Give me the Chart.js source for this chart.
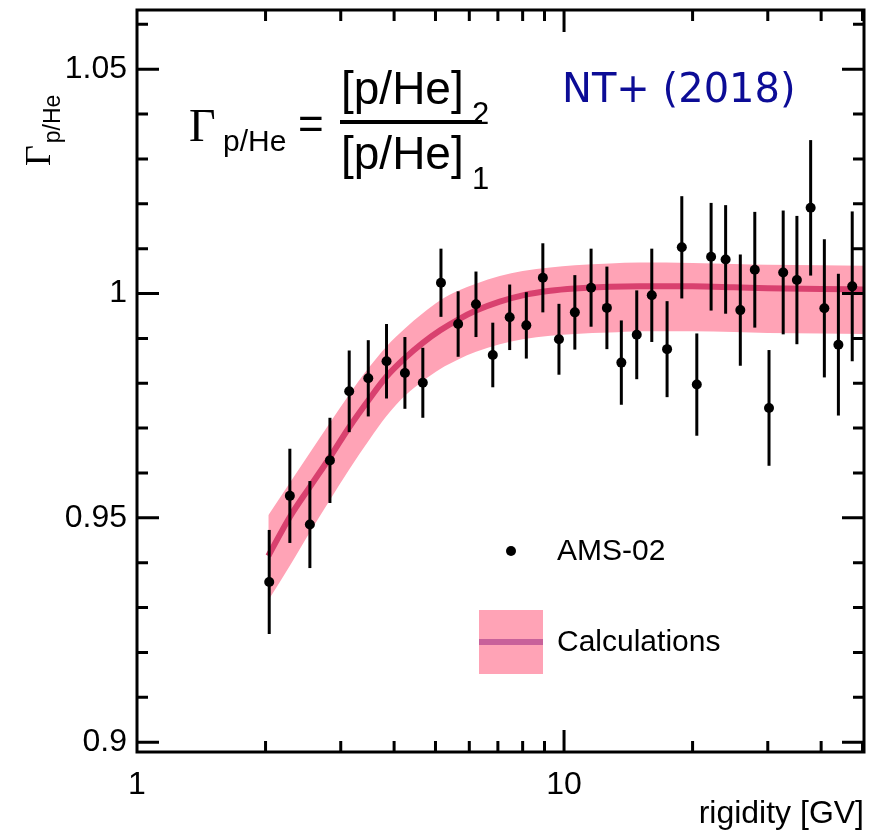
<!DOCTYPE html>
<html>
<head>
<meta charset="utf-8">
<script src="https://cdn.jsdelivr.net/npm/chart.js@4.4.0/dist/chart.umd.min.js"></script>
<style>
  html, body { margin: 0; padding: 0; background: #fff; }
  canvas { display: block; }
</style>
</head>
<body>
<canvas id="ratioChart" width="879" height="836"></canvas>
<script>
// AMS-02 points (rigidity in GV, ratio, error)
const rigidity = [2.04, 2.28, 2.54, 2.83, 3.14, 3.48, 3.84, 4.24, 4.67, 5.15, 5.65, 6.22, 6.81, 7.46, 8.16, 8.92, 9.73, 10.6, 11.57, 12.6, 13.62, 14.8, 16.05, 17.43, 18.87, 20.46, 22.1, 23.9, 25.87, 27.97, 30.2, 32.6, 35.1, 37.8, 40.7, 43.9, 47.3];
const ratio = [0.9357, 0.9549, 0.9485, 0.9628, 0.9782, 0.9811, 0.9849, 0.9823, 0.9801, 1.0024, 0.9932, 0.9976, 0.9863, 0.9947, 0.9929, 1.0035, 0.9898, 0.9958, 1.0013, 0.9968, 0.9846, 0.9908, 0.9996, 0.9876, 1.0103, 0.9797, 1.0082, 1.0076, 0.9963, 1.0053, 0.9745, 1.0047, 1.0030, 1.0191, 0.9967, 0.9886, 1.0016];
const ratioErr = [0.0116, 0.0105, 0.0097, 0.0095, 0.0091, 0.0085, 0.0083, 0.0080, 0.0078, 0.0076, 0.0073, 0.0073, 0.0072, 0.0073, 0.0074, 0.0077, 0.0079, 0.0083, 0.0087, 0.0092, 0.0094, 0.0099, 0.0104, 0.0107, 0.0114, 0.0114, 0.0120, 0.0121, 0.0124, 0.0129, 0.0129, 0.0138, 0.0143, 0.0151, 0.0154, 0.0158, 0.0167];

// calculation band
const calcRigidity = [2.03, 2.28, 2.54, 2.83, 3.14, 3.5, 3.84, 4.24, 4.67, 5.13, 5.65, 6.22, 7.07, 8.0, 9.28, 10.6, 12.8, 15.0, 20.0, 25.0, 30.0, 40.0, 50.4];
const calcCentral = [0.9415, 0.9502, 0.9569, 0.9635, 0.9702, 0.9765, 0.9815, 0.9856, 0.9890, 0.9918, 0.9942, 0.9962, 0.9982, 0.9996, 1.0006, 1.0011, 1.0015, 1.0016, 1.0016, 1.0014, 1.0012, 1.0010, 1.0009];
const calcUpper = [0.9506, 0.9578, 0.9645, 0.9712, 0.9775, 0.9836, 0.9882, 0.9922, 0.9956, 0.9985, 1.0006, 1.0022, 1.0039, 1.0050, 1.0058, 1.0063, 1.0067, 1.0069, 1.0068, 1.0066, 1.0064, 1.0063, 1.0062];
const calcLower = [0.9316, 0.9393, 0.9468, 0.9540, 0.9608, 0.9674, 0.9727, 0.9772, 0.9805, 0.9832, 0.9853, 0.9870, 0.9887, 0.9898, 0.9906, 0.9910, 0.9913, 0.9916, 0.9916, 0.9914, 0.9912, 0.9911, 0.9910];

// ticks
const xLabelTicks = [1, 10];
const xMajorTicks = [10];
const xMinorTicks = [2, 3, 4, 5, 6, 7, 8, 9, 20, 30, 40, 50];
const yLabelTicks = [0.9, 0.95, 1, 1.05];
const yMinorTicks = [0.91, 0.92, 0.93, 0.94, 0.96, 0.97, 0.98, 0.99, 1.01, 1.02, 1.03, 1.04, 1.06];

const bandColor = '#ffa3b6';
const lineColor = '#d9416f';

const pts = (xs, ys) => xs.map((v, i) => ({x: v, y: ys[i]}));

// error bars under the AMS-02 dots
const errorBars = {
    id: 'errorBars',
    beforeDatasetDraw(chart, args) {
        if (args.index !== 3) return;
        const {ctx, scales: {x, y}} = chart;
        ctx.save();
        ctx.strokeStyle = '#000';
        ctx.lineWidth = 3;
        rigidity.forEach((r, i) => {
            const px = x.getPixelForValue(r);
            ctx.beginPath();
            ctx.moveTo(px, y.getPixelForValue(ratio[i] - ratioErr[i]));
            ctx.lineTo(px, y.getPixelForValue(ratio[i] + ratioErr[i]));
            ctx.stroke();
        });
        ctx.restore();
    }
};

// frame, inner ticks, titles, formula and legend
const decorations = {
    id: 'decorations',
    afterDraw(chart) {
        const {ctx, chartArea: a, scales: {x, y}} = chart;
        ctx.save();
        ctx.strokeStyle = '#000';
        ctx.lineWidth = 3;
        ctx.strokeRect(a.left, a.top, a.right - a.left, a.bottom - a.top);

        ctx.beginPath();
        const xt = (v, len) => {
            const px = x.getPixelForValue(v);
            ctx.moveTo(px, a.bottom); ctx.lineTo(px, a.bottom - len);
            ctx.moveTo(px, a.top); ctx.lineTo(px, a.top + len);
        };
        const yt = (v, len) => {
            const py = y.getPixelForValue(v);
            ctx.moveTo(a.left, py); ctx.lineTo(a.left + len, py);
            ctx.moveTo(a.right, py); ctx.lineTo(a.right - len, py);
        };
        xMajorTicks.forEach(v => xt(v, 22));
        xMinorTicks.forEach(v => xt(v, 11));
        yLabelTicks.forEach(v => yt(v, 22));
        yMinorTicks.forEach(v => yt(v, 11));
        ctx.stroke();

        ctx.fillStyle = '#000';
        ctx.textBaseline = 'alphabetic';

        // y axis title, rotated
        ctx.save();
        ctx.translate(50, 166);
        ctx.rotate(-Math.PI / 2);
        ctx.font = '36px "Liberation Serif"';
        ctx.textAlign = 'left';
        ctx.fillText('\u0393', 0, 0);
        const gw = ctx.measureText('\u0393').width;
        ctx.font = '23px "Liberation Sans"';
        ctx.fillText('p/He', gw + 2, 10);
        ctx.restore();

        // formula
        ctx.textAlign = 'left';
        ctx.font = '46px "Liberation Serif"';
        ctx.fillText('\u0393', 189, 141);
        ctx.font = '30px "Liberation Sans"';
        ctx.fillText('p/He', 223, 151);
        ctx.font = '44px "Liberation Sans"';
        ctx.fillText('=', 298, 139);
        ctx.font = '46px "Liberation Sans"';
        ctx.fillText('[p/He]', 341, 104);
        ctx.fillText('[p/He]', 341, 169);
        ctx.font = '31px "Liberation Sans"';
        ctx.fillText('2', 472, 124);
        ctx.fillText('1', 472, 189);
        ctx.fillRect(340, 120, 142, 4);

        // NT+ label
        ctx.fillStyle = '#0c0c96';
        ctx.font = '40px "DejaVu Sans"';
        ctx.fillText('NT+ (2018)', 562, 102);

        // legend
        ctx.fillStyle = '#000';
        ctx.beginPath();
        ctx.arc(511, 551, 5, 0, Math.PI * 2);
        ctx.fill();
        ctx.fillStyle = bandColor;
        ctx.fillRect(479, 610, 64, 64);
        ctx.fillStyle = '#c8619a';
        ctx.fillRect(479, 639, 64, 6);
        ctx.fillStyle = '#000';
        ctx.font = '30px "Liberation Sans"';
        ctx.textBaseline = 'middle';
        ctx.fillText('AMS-02', 557, 552);
        ctx.fillText('Calculations', 557, 643);
        ctx.restore();
    }
};

new Chart(document.getElementById('ratioChart'), {
    type: 'scatter',
    data: {
        datasets: [{
            label: 'band upper',
            data: pts(calcRigidity, calcUpper),
            order: 3,
            showLine: true,
            borderWidth: 0,
            pointRadius: 0,
            backgroundColor: bandColor,
            fill: '+1',
            cubicInterpolationMode: 'monotone'
        }, {
            label: 'band lower',
            data: pts(calcRigidity, calcLower),
            order: 4,
            showLine: true,
            borderWidth: 0,
            pointRadius: 0,
            fill: false,
            cubicInterpolationMode: 'monotone'
        }, {
            label: 'Calculations',
            data: pts(calcRigidity, calcCentral),
            order: 2,
            showLine: true,
            borderColor: lineColor,
            borderWidth: 6,
            pointRadius: 0,
            fill: false,
            cubicInterpolationMode: 'monotone'
        }, {
            label: 'AMS-02',
            data: pts(rigidity, ratio),
            order: 1,
            pointRadius: 5,
            pointBackgroundColor: '#000',
            pointBorderWidth: 0
        }]
    },
    options: {
        responsive: false,
        animation: false,
        devicePixelRatio: 1,
        layout: { padding: { top: 10, right: 15, left: 0, bottom: 0 } },
        plugins: { legend: { display: false }, tooltip: { enabled: false } },
        scales: {
            x: {
                type: 'logarithmic',
                min: 1,
                max: 50.4,
                grid: { display: false, drawTicks: false },
                border: { display: false },
                afterBuildTicks: s => { s.ticks = xLabelTicks.map(v => ({value: v})); },
                afterFit: s => { s.height = 84; s.paddingLeft = 0; s.paddingRight = 0; },
                ticks: {
                    autoSkip: false,
                    maxRotation: 0,
                    padding: 14,
                    color: '#000',
                    font: { family: 'Liberation Sans', size: 32 },
                    callback: v => String(v)
                },
                title: {
                    display: true,
                    text: 'rigidity [GV]',
                    align: 'end',
                    color: '#000',
                    padding: { top: 0, bottom: 3 },
                    font: { family: 'Liberation Sans', size: 32 }
                }
            },
            y: {
                min: 0.8978,
                max: 1.0632,
                grid: { display: false, drawTicks: false },
                border: { display: false },
                afterBuildTicks: s => { s.ticks = yLabelTicks.map(v => ({value: v})); },
                afterFit: s => { s.width = 137; s.paddingTop = 0; s.paddingBottom = 0; },
                ticks: {
                    padding: 10,
                    color: '#000',
                    font: { family: 'Liberation Sans', size: 32 },
                    callback: v => String(v)
                }
            }
        }
    },
    plugins: [errorBars, decorations]
});
</script>
</body>
</html>
